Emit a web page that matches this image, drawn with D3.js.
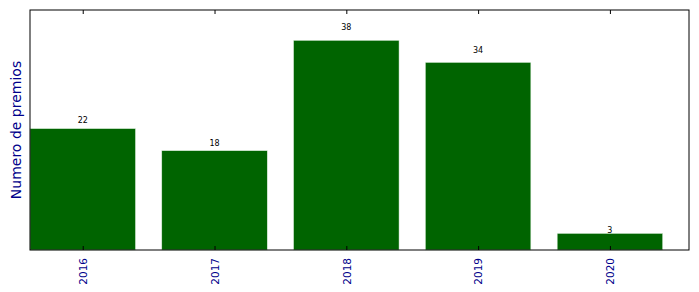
<!DOCTYPE html>
<html>
<head>
<meta charset="utf-8">
<script src="https://cdn.jsdelivr.net/npm/d3@7"></script>
<style>
  body { margin: 0; background: #fff; }
  text { font-family: "DejaVu Sans", sans-serif; }
</style>
</head>
<body>
<div id="chart"></div>
<script>
var width = 699;
var height = 292;

// years and number of awards
var years = ["2016", "2017", "2018", "2019", "2020"];
var premios = [22, 18, 38, 34, 3];

var margin = {left: 30, top: 10, right: 10, bottom: 42};
var plotW = width - margin.left - margin.right;
var plotH = height - margin.top - margin.bottom;

// bars sit at i .. i+0.8, axis runs 0..5
var xScale = d3.scaleLinear().domain([0, years.length]).range([0, plotW]);
var yScale = d3.scaleLinear().domain([0, 38 * 1.145]).range([plotH, 0]);

var svg = d3.select("#chart")
    .append("svg")
    .attr("width", width)
    .attr("height", height);

var chart = svg.append("g")
    .attr("transform", "translate(" + margin.left + "," + margin.top + ")");

chart.selectAll(".bar")
    .data(premios)
    .enter()
    .append("rect")
    .attr("class", "bar")
    .attr("x", function (d, i) { return xScale(i); })
    .attr("y", function (d) { return yScale(d); })
    .attr("width", xScale(0.8) - xScale(0))
    .attr("height", function (d) { return plotH - yScale(d); })
    .attr("fill", "#006400")
    .attr("stroke", "#d8ecd8")
    .attr("stroke-width", 0.5);

// value labels above bars
chart.selectAll(".val")
    .data(premios)
    .enter()
    .append("text")
    .attr("class", "val")
    .attr("x", function (d, i) { return xScale(i + 0.4); })
    .attr("y", function (d) { return yScale(d * 1.05); })
    .attr("text-anchor", "middle")
    .style("font-size", "8px")
    .style("fill", "#000")
    .text(function (d) { return d; });

// bottom axis with inward ticks
var tickVals = years.map(function (d, i) { return i + 0.4; });
var xAxis = d3.axisBottom(xScale)
    .tickValues(tickVals)
    .tickSize(-4)
    .tickSizeOuter(0)
    .tickFormat(function (d, i) { return years[i]; });

var gx = chart.append("g")
    .attr("transform", "translate(0," + plotH + ")")
    .call(xAxis);
gx.select(".domain").remove();
gx.selectAll(".tick line").attr("stroke", "#000");
gx.selectAll(".tick text")
    .attr("transform", "rotate(-90)")
    .attr("x", -8)
    .attr("y", 0)
    .attr("dy", "0.35em")
    .style("text-anchor", "end")
    .style("font-size", "10.5px")
    .style("fill", "#00008b");

// top ticks
var xTop = d3.axisTop(xScale)
    .tickValues(tickVals)
    .tickSize(-4)
    .tickSizeOuter(0)
    .tickFormat("");
var gt = chart.append("g").call(xTop);
gt.select(".domain").remove();

// frame
chart.append("rect")
    .attr("x", 0)
    .attr("y", 0)
    .attr("width", plotW)
    .attr("height", plotH)
    .attr("fill", "none")
    .attr("stroke", "#000")
    .attr("stroke-width", 1);

// y label
svg.append("text")
    .attr("transform", "translate(21," + (margin.top + plotH / 2) + ") rotate(-90)")
    .attr("text-anchor", "middle")
    .style("font-size", "14px")
    .style("fill", "#00008b")
    .text("Numero de premios");
</script>
</body>
</html>
